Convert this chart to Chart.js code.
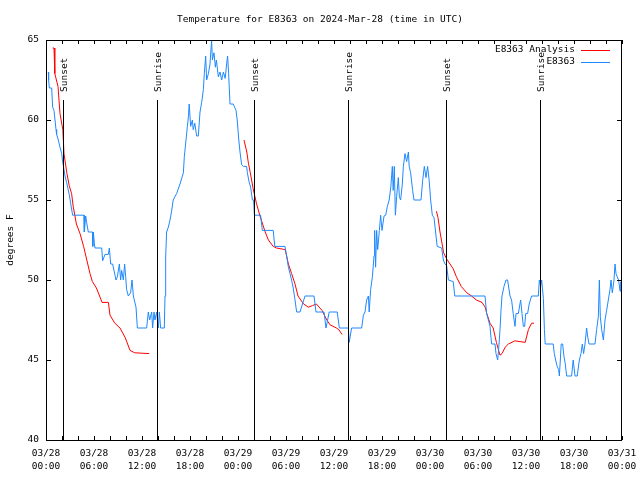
<!DOCTYPE html>
<html>
<head>
<meta charset="utf-8">
<script src="https://cdn.jsdelivr.net/npm/chart.js@4.4.1/dist/chart.umd.min.js"></script>
<style>
  html, body { margin: 0; padding: 0; background: #fff; }
  #wrap { width: 640px; height: 480px; }
</style>
</head>
<body>
<div id="wrap"><canvas id="chartTemp" width="640" height="480"></canvas></div>
<script>
// hours since 03/28 00:00 UTC
let obsHours = [0.29,0.33,0.42,0.71,0.83,1.0,1.125,1.25,1.33,1.54,1.75,1.96,2.08,2.25,2.375,2.58,2.92,3.08,3.33,4.75,4.79,4.96,5.08,5.29,5.83,5.85,5.92,6.04,6.125,6.96,7.08,7.375,7.79,7.92,8.08,8.33,8.625,8.75,8.92,9.17,9.33,9.46,9.67,9.83,9.96,10.08,10.29,10.58,10.75,10.92,11.25,11.42,12.58,12.79,12.96,13.21,13.33,13.5,13.625,13.83,14.04,14.17,14.33,14.79,14.875,14.96,15.08,15.29,15.5,15.7,15.9,16.33,16.75,17.17,17.29,17.5,17.67,17.8,17.9,18.08,18.3,18.4,18.6,18.83,19.04,19.25,19.46,19.67,19.79,19.96,20.08,20.3,20.5,20.7,20.8,21.0,21.17,21.3,21.54,21.75,21.96,22.17,22.4,22.58,22.7,22.83,23.0,23.4,23.75,23.9,24.1,24.25,24.46,24.67,25.08,25.17,25.4,25.58,25.8,25.95,26.05,26.83,27.04,28.4,28.6,29.875,30.08,30.3,30.5,30.7,30.9,31.1,31.33,31.75,32.375,33.5,33.75,34.75,35.0,35.4,36.4,36.67,37.8,37.9,38.2,39.46,39.67,39.875,40.08,40.3,40.4,40.58,40.8,41.0,41.08,41.2,41.33,41.46,41.67,41.83,42.0,42.25,42.46,42.67,42.9,43.1,43.29,43.4,43.54,43.67,43.83,44.04,44.17,44.33,44.54,44.67,44.875,45.08,45.3,45.4,45.58,45.83,46.0,46.875,47.08,47.29,47.5,47.7,47.9,48.08,48.29,48.5,48.9,49.46,49.67,49.875,50.08,50.3,50.9,51.1,54.875,55.08,55.3,55.5,55.7,56.125,56.25,56.46,56.6,56.75,56.875,57.0,57.25,57.5,57.7,58.0,58.2,58.4,58.625,58.75,59.04,59.33,59.5,59.67,59.83,59.96,60.2,60.4,60.7,61.54,61.67,61.83,61.96,62.17,62.3,62.4,63.4,63.54,63.7,63.9,64.08,64.17,64.29,64.4,64.58,64.75,64.9,65.08,65.7,65.9,66.125,66.4,66.67,66.875,67.04,67.2,67.375,67.58,67.7,67.875,68.625,68.83,69.04,69.17,69.29,69.46,69.67,69.875,70.08,70.29,70.5,70.625,70.79,71.0,71.125,71.25,71.4,71.58,71.75,71.83]
let obsTemps = [63,62.5,62,62,60.8,60.6,60,59.4,59.1,58.75,58.3,57.9,57.4,56.9,56.5,56.1,55.3,54.8,54.05,54.05,53,54,53.6,53,53,52.1,53,52.3,52,52,51.2,51.6,51.6,52,51,51,50.3,50,50.2,51,50,50.6,50,51,50.2,49.4,49,49.2,50,49,48.3,47,47,48,47.5,48,47,48,47.5,48,47,48,47,47,49,51.5,53,53.3,53.75,54.3,55,55.4,56,56.7,57.7,58.75,59.6,60.2,61,59.6,60,59.4,59.8,59,59,60.5,61.1,61.9,62.9,64,62.5,62.9,63.5,65,63.75,64.2,63.3,63.75,62.7,63,62.5,63,62.6,63.5,64,62.9,61,61,60.6,60,58.75,58,57.2,57.1,57.1,56.7,56.1,55.8,55,55,54.05,54.05,53.1,53.1,52.1,52.1,51.5,50.8,50.4,50,49.5,48.85,48,48,49,49,48,48,47,48,48,47,47,46.1,47,47,47.8,48,48.75,49,48,49.4,50.2,51.5,53.1,50.8,53.1,51.9,53.1,54.05,53.1,54,54.05,54.6,55,55.8,57.1,55.6,57.1,54.05,55.2,56.4,55.2,55,56,57.1,57.9,57.4,58,57.1,56.7,55.6,55,55,56.2,57.1,56.4,57.1,56.2,55,54.05,53.9,52.1,52,51.25,51,50.9,50,49.9,49,49,47.9,47.5,47.1,46,46,45.4,45,45.8,46.9,48.1,49,49.6,50,50,49,48.75,47.9,47.1,47.9,47.9,48.75,47.9,47.1,47.1,47.9,47.9,48.5,49,49,50,49.6,50,48.85,46.9,46,46,45.4,45,44.6,44.4,44,45,46,46,45.2,44.8,44,44,45,44,44,45,45.4,46,45.4,46,47,46.5,46,46,46.9,47.7,50,47.7,46.9,46.25,47.5,48.1,48.75,49.4,50,49.2,50,51,50.4,50.2,50,49.3,49.9]

let anaHours = [0.83,1.0,1.1,1.5,1.75,2.1,2.25,2.6,2.9,3.2,3.4,3.8,4.25,4.7,5.1,5.5,5.8,6.3,6.7,7.0,7.8,8.0,8.6,9.25,9.9,10.5,11.1,12.9,
  18,
  24.75,25.1,25.3,25.5,25.9,26.3,26.75,27.4,27.8,28.4,28.8,29.9,30.3,30.7,31.1,31.5,32.2,32.8,33.3,33.8,34.5,35.1,35.5,36.3,36.6,37.0,
  43,
  48.8,49.0,49.25,49.5,49.7,50.1,50.5,50.9,51.3,51.9,52.6,53.2,53.8,54.5,54.9,55.1,55.5,55.9,56.3,56.75,57.0,57.4,57.8,58.6,59.9,60.3,60.7,61.0]
let anaTemps = [64.5,64.5,62.9,62.1,60.4,59.4,57.9,56.7,55.9,55.4,54.6,53.5,52.9,52.1,51.25,50.4,49.9,49.5,49.0,48.6,48.6,47.8,47.3,47.0,46.4,45.6,45.45,45.4,
  null,
  58.75,58.0,57.3,56.8,55.7,54.8,54.0,53.0,52.5,52.1,52.0,51.9,51.0,50.4,49.8,49.0,48.5,48.3,48.4,48.5,48.1,47.5,47.2,47.0,46.9,46.6,
  null,
  54.3,53.9,53.0,52.3,51.7,51.3,51.0,50.7,50.2,49.6,49.2,49.0,48.75,48.6,48.3,47.9,47.3,47.0,46.1,45.3,45.4,45.8,46.0,46.2,46.1,46.9,47.3,47.3]

let sunsetHours = [2.15, 26.05, 50.05]
let sunriseHours = [13.83, 37.8, 61.7]

let tickDates = ['03/28','03/28','03/28','03/28','03/29','03/29','03/29','03/29','03/30','03/30','03/30','03/30','03/31']
let tickTimes = ['00:00','06:00','12:00','18:00','00:00','06:00','12:00','18:00','00:00','06:00','12:00','18:00','00:00']

let titleText = 'Temperature for E8363 on 2024-Mar-28 (time in UTC)'
let yTitle = 'degrees F'
let anaLabel = 'E8363 Analysis'
let obsLabel = 'E8363'

const FONT = "'DejaVu Sans Mono', 'Liberation Mono', monospace"
const RED = '#ff0000'
const BLUE = '#1e88ff'

const toPoints = (xs, ys) => xs.map((x, i) => ({ x: x, y: ys[i] }))

// gnuplot look: frame, inward tics, sun markers, title, key
const gnuplotBits = {
    id: 'gnuplotBits',
    afterDraw(chart) {
        const c = chart.ctx
        const a = chart.chartArea
        const xs = chart.scales.x
        const ys = chart.scales.y
        c.save()
        c.strokeStyle = '#000'
        c.fillStyle = '#000'
        c.lineWidth = 1

        // tics every 2 h on x, every 5 on y, mirrored
        c.beginPath()
        for (let h = 0; h <= 72; h += 2) {
            let px = Math.round(xs.getPixelForValue(h)) + 0.5
            c.moveTo(px, a.bottom); c.lineTo(px, a.bottom - 4)
            c.moveTo(px, a.top); c.lineTo(px, a.top + 4)
        }
        for (let v = 40; v <= 65; v += 5) {
            let py = Math.round(ys.getPixelForValue(v)) + 0.5
            c.moveTo(a.left, py); c.lineTo(a.left + 5, py)
            c.moveTo(a.right, py); c.lineTo(a.right - 5, py)
        }
        c.stroke()

        // sunset / sunrise lines
        c.font = '9.5px ' + FONT
        const mark = (h, txt) => {
            let px = Math.round(xs.getPixelForValue(h)) + 0.5
            let y0 = ys.getPixelForValue(40)
            let y1 = a.bottom - 0.85 * (a.bottom - a.top)
            c.beginPath()
            c.moveTo(px, y0)
            c.lineTo(px, y1)
            c.stroke()
            c.save()
            c.translate(px + 1.5, a.bottom - 0.87 * (a.bottom - a.top))
            c.rotate(-Math.PI / 2)
            c.textAlign = 'left'
            c.textBaseline = 'middle'
            c.fillText(txt, 0, 0)
            c.restore()
        }
        sunsetHours.forEach(h => mark(h, 'Sunset'))
        sunriseHours.forEach(h => mark(h, 'Sunrise'))

        // frame
        c.strokeRect(a.left + 0.5, a.top + 0.5, a.right - a.left - 1, a.bottom - a.top)

        // title
        c.font = '9.5px ' + FONT
        c.textAlign = 'center'
        c.textBaseline = 'middle'
        c.fillText(titleText, chart.width / 2, 20)

        // y title
        c.save()
        c.translate(11, (a.top + a.bottom) / 2)
        c.rotate(-Math.PI / 2)
        c.fillText(yTitle, 0, 0)
        c.restore()

        // key
        c.textAlign = 'right'
        let kx = a.right - 47
        let rows = [[anaLabel, RED], [obsLabel, BLUE]]
        rows.forEach((r, i) => {
            let ky = a.top + 10 + i * 12
            c.fillStyle = '#000'
            c.fillText(r[0], kx, ky)
            c.strokeStyle = r[1]
            c.beginPath()
            c.moveTo(kx + 6, Math.round(ky) + 0.5)
            c.lineTo(kx + 35, Math.round(ky) + 0.5)
            c.stroke()
        })
        c.restore()
    }
}

const ctx = document.getElementById('chartTemp').getContext('2d')
let chart = new Chart(ctx, {
    type: 'line',
    data: {
        datasets: [{
            label: obsLabel,
            data: toPoints(obsHours, obsTemps),
            borderColor: BLUE,
            borderWidth: 1,
            pointRadius: 0,
            tension: 0
        }, {
            label: anaLabel,
            data: toPoints(anaHours, anaTemps),
            borderColor: RED,
            borderWidth: 1,
            pointRadius: 0,
            tension: 0,
            spanGaps: false
        }]
    },
    options: {
        responsive: false,
        animation: false,
        devicePixelRatio: 1,
        layout: { padding: { top: 40, right: 18, left: 0, bottom: 0 } },
        plugins: {
            legend: { display: false },
            title: { display: false },
            tooltip: { enabled: false }
        },
        scales: {
            x: {
                type: 'linear',
                min: 0,
                max: 72,
                grid: { display: false, drawTicks: false },
                border: { display: false },
                afterFit: s => { s.height = 40; s.paddingLeft = 0; s.paddingRight = 0 },
                ticks: {
                    stepSize: 6,
                    autoSkip: false,
                    maxRotation: 0,
                    padding: 7,
                    color: '#000',
                    font: { family: FONT, size: 9.5, lineHeight: '13px' },
                    callback: v => [tickDates[v / 6], tickTimes[v / 6]]
                }
            },
            y: {
                min: 40,
                max: 65,
                grid: { display: false, drawTicks: false },
                border: { display: false },
                afterFit: s => { s.width = 46; s.paddingTop = 0; s.paddingBottom = 0 },
                ticks: {
                    stepSize: 5,
                    padding: 7,
                    color: '#000',
                    font: { family: FONT, size: 9.5 }
                }
            }
        }
    },
    plugins: [gnuplotBits]
})
</script>
</body>
</html>
